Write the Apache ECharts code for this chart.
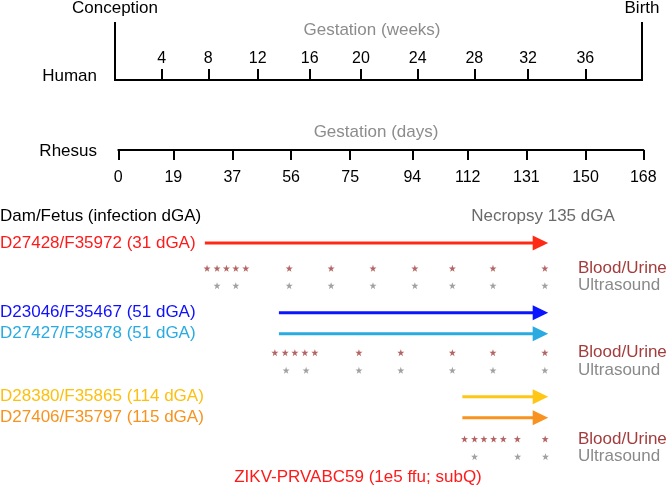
<!DOCTYPE html>
<html><head><meta charset="utf-8">
<script src="https://cdn.jsdelivr.net/npm/echarts@6/dist/echarts.min.js"></script>
<style>html,body{margin:0;padding:0;background:#fff}#c{width:666px;height:487px}</style>
</head><body><div id="c"></div>
<script>
// ---- data ----
const humanTickLabels = ['4','8','12','16','20','24','28','32','36'];
const humanTickPos = [3.54, 7.08, 10.83, 14.78, 18.67, 22.98, 27.27, 31.35, 35.70]; // drawn positions, weeks scale
const humanEnds = [0, 40]; // conception, birth
const rhesusTickLabels = ['0','19','37','56','75','94','112','131','150','168'];
const rhesusTickPos = [0, 17.6, 36.5, 55.3, 74.2, 94.1, 111.8, 130.6, 149.5, 168]; // drawn positions, days scale
const animals = ['D27428/F35972 (31 dGA)','D23046/F35467 (51 dGA)','D27427/F35878 (51 dGA)','D28380/F35865 (114 dGA)','D27406/F35797 (115 dGA)'];
const infectionDGA = [31, 51, 51, 114, 115];
const arrowStart = [27.7, 51.4, 51.4, 110.1, 110.1]; // drawn arrow starts (dGA scale)
const necropsyDGA = 135;
const bloodUrine = [
  [28.4, 31.6, 34.6, 37.6, 40.8, 54.7, 68.1, 81.5, 94.9, 106.9, 119.9, 136.5],
  [50.1, 53.4, 56.5, 59.7, 62.9, 77.0, 90.4, 106.9, 119.9, 136.5],
  [110.8, 114.0, 117.0, 120.1, 123.2, 127.7, 136.6]
];
const ultrasound = [
  [31.6, 37.6, 54.7, 68.1, 81.5, 94.9, 106.9, 119.9, 136.5],
  [53.7, 60.1, 77.0, 90.4, 106.9, 119.9, 136.5],
  [114.0, 127.8, 136.7]
];

// ---- styling / layout ----
const FONT = "'Liberation Sans', Arial, Helvetica, sans-serif";
const animalColors = ['#ff2a16', '#0a14ff', '#29abe2', '#ffc615', '#f7931e'];
const labelColors = ['#ff1a1a', '#1010ff', '#29abe2', '#fdc010', '#f7931e'];
const buColor = '#a33d3d', usColor = '#8a8a8a';
const rowY = [243, 312.7, 333.7, 396.7, 417.7];
const sampleRowY = [[268.3, 285.7], [352.7, 370.3], [439, 456.7]];
const STAR = 'path://M0,-10L2.35,-3.24L9.51,-3.09L3.8,1.24L5.88,8.09L0,4L-5.88,8.09L-3.8,1.24L-9.51,-3.09L-2.35,-3.24Z';

function txt(text, x, y, color, align, size) {
  return { type: 'text', x: x, y: y, silent: true,
    style: { text: text, fill: color, font: (size || 17) + 'px ' + FONT,
      align: align || 'left', verticalAlign: 'middle', textAlign: align || 'left', textVerticalAlign: 'middle' } };
}
const graphics = [
  txt('Conception', 115, 8, '#000', 'center'),
  txt('Birth', 642, 8, '#000', 'center'),
  txt('Gestation (weeks)', 372, 30, '#8c8c8c', 'center'),
  txt('Human', 97, 76, '#000', 'right'),
  txt('Gestation (days)', 376, 132, '#8c8c8c', 'center'),
  txt('Rhesus', 97, 151, '#000', 'right'),
  txt('Dam/Fetus (infection dGA)', 0, 216, '#000', 'left'),
  txt('Necropsy ' + necropsyDGA + ' dGA', 543, 216, '#6a6a6a', 'center'),
  txt('ZIKV-PRVABC59 (1e5 ffu; subQ)', 358, 477, '#ff1a1a', 'center')
];
animals.forEach((a, i) => graphics.push(txt(a, 0, rowY[i], labelColors[i], 'left')));
sampleRowY.forEach(r => {
  graphics.push(txt('Blood/Urine', 578, r[0], buColor, 'left'));
  graphics.push(txt('Ultrasound', 578, r[1], usColor, 'left'));
});

const series = [];
// human axis end bars
series.push({
  type: 'custom', xAxisIndex: 0, yAxisIndex: 0, silent: true,
  data: humanEnds.map(v => [v]),
  renderItem: (p, api) => {
    const t = api.coord([api.value(0), 1]);
    const b = api.coord([api.value(0), 0]);
    return { type: 'line', shape: { x1: t[0], y1: t[1], x2: b[0], y2: b[1] + 1 }, style: { stroke: '#000', lineWidth: 2 } };
  }
});
// arrows
series.push({
  type: 'custom', xAxisIndex: 2, yAxisIndex: 2, silent: true,
  encode: { x: [0, 1], y: 2 },
  data: arrowStart.map((s, i) => [s, necropsyDGA, rowY[i]]),
  renderItem: (p, api) => {
    const s = api.coord([api.value(0), api.value(2)]);
    const e = api.coord([api.value(1), api.value(2)]);
    const c = animalColors[p.dataIndex];
    const h = 7.5;
    return { type: 'group', children: [
      { type: 'line', shape: { x1: s[0], y1: s[1], x2: e[0] - h + 1, y2: e[1] }, style: { stroke: c, lineWidth: 3 } },
      { type: 'polygon', shape: { points: [[e[0] - h, e[1] - h], [e[0] + h + 0.5, e[1]], [e[0] - h, e[1] + h]] }, style: { fill: c } }
    ] };
  }
});
// sample stars
bloodUrine.forEach((g, i) => series.push({
  type: 'scatter', xAxisIndex: 2, yAxisIndex: 2, silent: true, symbol: STAR, symbolSize: 7,
  itemStyle: { color: buColor }, data: g.map(d => [d, sampleRowY[i][0]])
}));
ultrasound.forEach((g, i) => series.push({
  type: 'scatter', xAxisIndex: 2, yAxisIndex: 2, silent: true, symbol: STAR, symbolSize: 7,
  itemStyle: { color: usColor }, data: g.map(d => [d, sampleRowY[i][1]])
}));

const chart = echarts.init(document.getElementById('c'), null, { renderer: 'canvas' });
chart.setOption({
  animation: false,
  backgroundColor: '#fff',
  grid: [
    { left: 115, width: 527, top: 22, height: 58 },
    { left: 118.3, width: 525, top: 100, height: 50 },
    { left: 118.3, width: 525, top: 200, height: 287 }
  ],
  xAxis: [
    { gridIndex: 0, type: 'value', min: 0, max: 40,
      axisLine: { show: true, onZero: false, lineStyle: { color: '#000', width: 2 } },
      axisTick: { show: true, inside: true, length: 11, customValues: humanTickPos, lineStyle: { color: '#000', width: 2 } },
      axisLabel: { show: true, inside: true, margin: 13.5, customValues: humanTickPos,
        formatter: v => humanTickLabels[humanTickPos.indexOf(v)], color: '#000', fontSize: 16, fontFamily: FONT },
      splitLine: { show: false } },
    { gridIndex: 1, type: 'value', min: 0, max: 168,
      axisLine: { show: true, onZero: false, lineStyle: { color: '#000', width: 2 } },
      axisTick: { show: true, inside: false, length: 10, customValues: rhesusTickPos, lineStyle: { color: '#000', width: 2 } },
      axisLabel: { show: true, margin: 19.5, customValues: rhesusTickPos,
        formatter: v => rhesusTickLabels[rhesusTickPos.indexOf(v)], color: '#000', fontSize: 16, fontFamily: FONT },
      splitLine: { show: false } },
    { gridIndex: 2, type: 'value', min: 0, max: 168, show: false }
  ],
  yAxis: [
    { gridIndex: 0, type: 'value', min: 0, max: 1, show: false },
    { gridIndex: 1, type: 'value', min: 0, max: 1, show: false },
    { gridIndex: 2, type: 'value', min: 200, max: 487, inverse: true, show: false }
  ],
  graphic: graphics,
  series: series
});
</script>
</body></html>
